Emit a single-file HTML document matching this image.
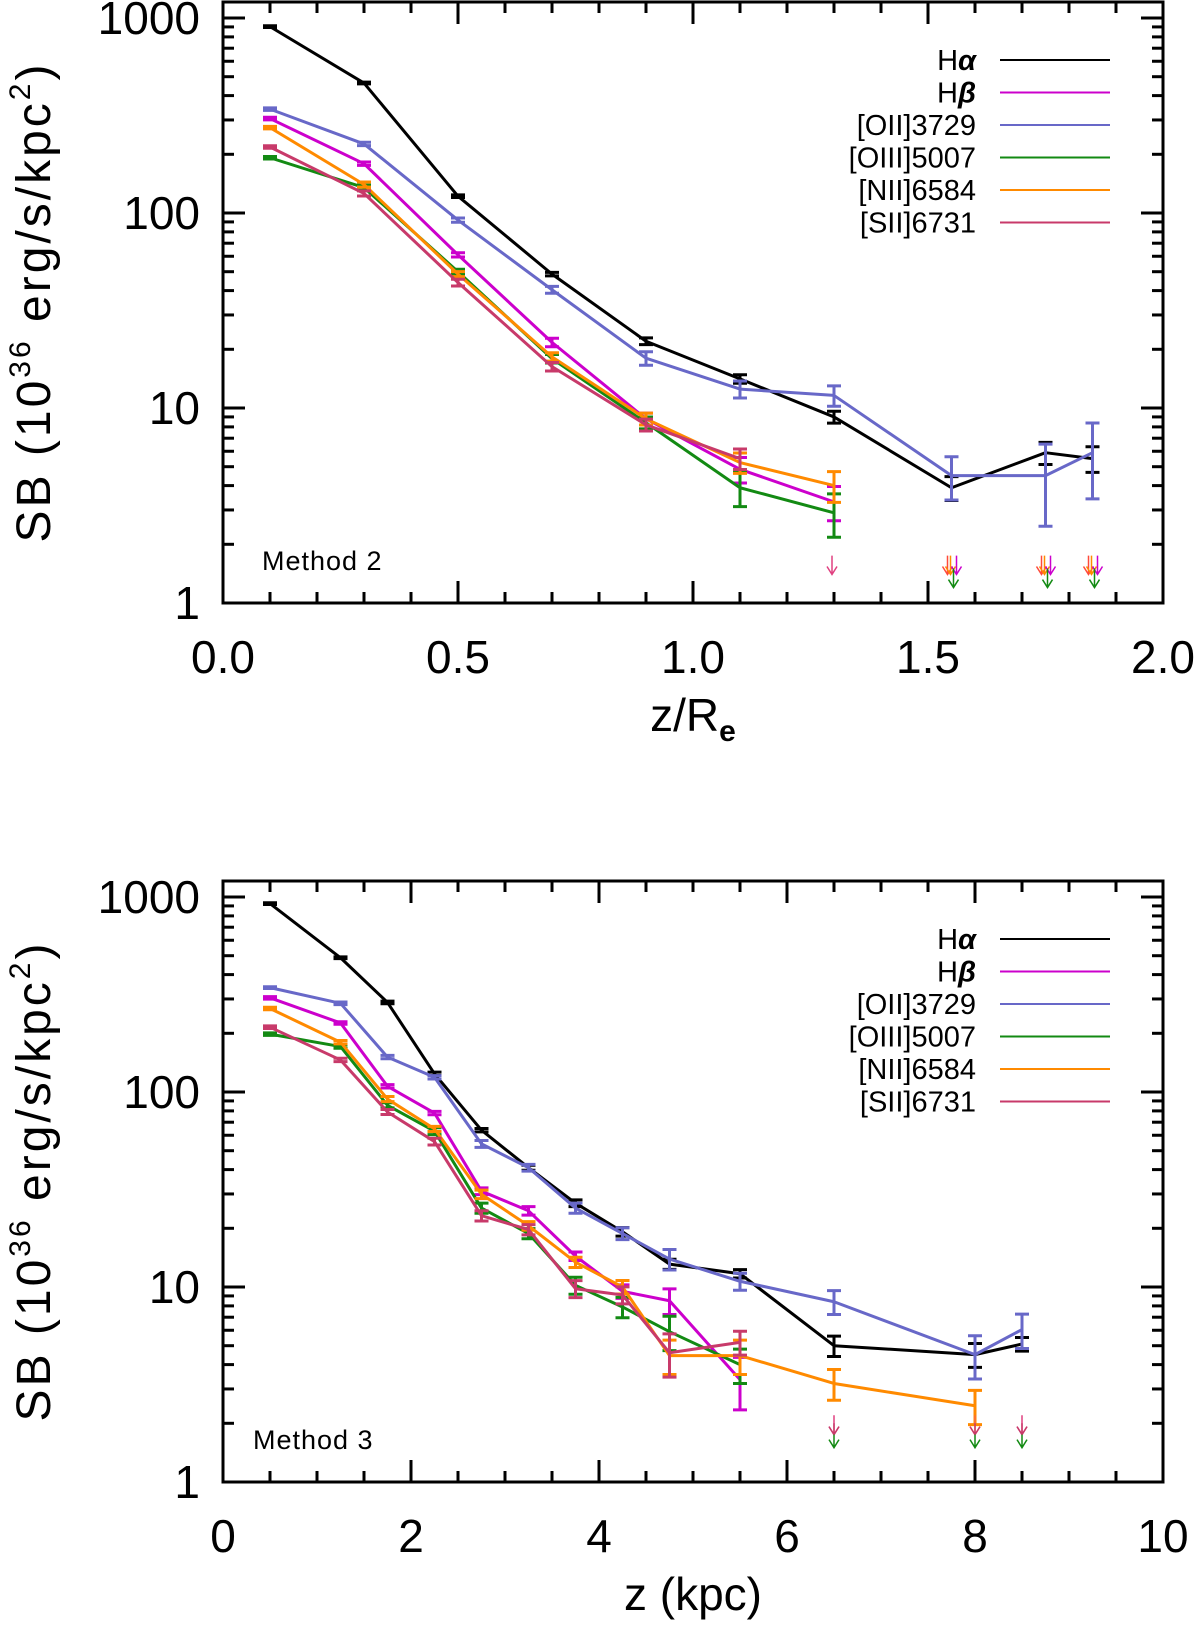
<!DOCTYPE html>
<html><head><meta charset="utf-8">
<style>
html,body{margin:0;padding:0;background:#fff;}
svg{display:block;font-family:"Liberation Sans","DejaVu Sans",sans-serif;}
</style></head>
<body>
<svg id="chart" width="1200" height="1626" viewBox="0 0 1200 1626" xmlns="http://www.w3.org/2000/svg"></svg>
<script>
// ---------- Panel 1 (Method 2) data ----------
const p1X = [0.1, 0.3, 0.5, 0.7, 0.9, 1.1, 1.3, 1.55, 1.75, 1.85];
const p1Ha   = [903, 464, 122, 48.6, 22.0, 14.1, 9.0, 3.9, 5.9, 5.5];
const p1Hb   = [305, 179, 61, 21.7, 8.8, 4.85, 3.3, null, null, null];
const p1OII  = [341, 226, 92, 40.4, 18.0, 12.5, 11.6, 4.5, 4.5, 5.9];
const p1OIII = [192, 135, 50, 17.9, 8.4, 3.9, 2.9, null, null, null];
const p1NII  = [274, 140, 48.6, 18.3, 8.8, 5.25, 4.0, null, null, null];
const p1SII  = [218, 126, 44, 16.3, 8.2, 5.5, null, null, null, null];
const p1HaErr   = [0.01, 0.01, 0.015, 0.02, 0.04, 0.05, 0.07, 0.14, 0.13, 0.15];
const p1HbErr   = [0.015, 0.02, 0.025, 0.05, 0.07, 0.15, 0.2, 0, 0, 0];
const p1OIIErr  = [0.015, 0.02, 0.025, 0.04, 0.08, 0.1, 0.12, 0.25, 0.45, 0.42];
const p1OIIIErr = [0.015, 0.03, 0.03, 0.05, 0.07, 0.2, 0.25, 0, 0, 0];
const p1NIIErr  = [0.015, 0.03, 0.03, 0.05, 0.07, 0.12, 0.18, 0, 0, 0];
const p1SIIErr  = [0.015, 0.03, 0.04, 0.05, 0.07, 0.12, 0, 0, 0, 0];
const p1LimX = [1.3, 1.55, 1.75, 1.85];
const p1XTicks = ["0.0", "0.5", "1.0", "1.5", "2.0"];
const p1XTickVals = [0, 0.5, 1.0, 1.5, 2.0];

// ---------- Panel 2 (Method 3) data ----------
const p2X = [0.5, 1.25, 1.75, 2.25, 2.75, 3.25, 3.75, 4.25, 4.75, 5.5, 6.5, 8.0, 8.5];
const p2Ha   = [925, 488, 288, 124, 63.7, 40.9, 26.9, 19.2, 13.1, 11.7, 5.0, 4.5, 5.1];
const p2Hb   = [304, 226, 107, 78, 31, 24.6, 14.4, 9.5, 8.5, 3.35, null, null, null];
const p2OII  = [343, 285, 151, 119, 54.2, 40.9, 25.4, 18.8, 13.9, 10.7, 8.4, 4.5, 6.05];
const p2OIII = [198, 171, 85.5, 63, 25.4, 18.8, 10.2, 7.9, 5.9, 4.0, null, null, null];
const p2NII  = [268, 180, 92, 64.7, 29.9, 20.6, 13.4, 10.0, 4.45, 4.45, 3.2, 2.46, null];
const p2SII  = [215, 146, 79, 55.7, 23.2, 19.7, 9.8, 9.1, 4.6, 5.2, null, null, null];
const p2HaErr   = [0.01, 0.01, 0.015, 0.02, 0.02, 0.03, 0.04, 0.05, 0.06, 0.05, 0.12, 0.14, 0.08];
const p2HbErr   = [0.015, 0.015, 0.02, 0.02, 0.04, 0.05, 0.05, 0.08, 0.15, 0.3, 0, 0, 0];
const p2OIIErr  = [0.01, 0.015, 0.02, 0.02, 0.04, 0.04, 0.06, 0.07, 0.12, 0.1, 0.14, 0.25, 0.2];
const p2OIIIErr = [0.015, 0.02, 0.03, 0.04, 0.06, 0.06, 0.1, 0.12, 0.2, 0.2, 0, 0, 0];
const p2NIIErr  = [0.015, 0.02, 0.03, 0.03, 0.05, 0.05, 0.06, 0.08, 0.2, 0.2, 0.18, 0.2, 0];
const p2SIIErr  = [0.015, 0.02, 0.03, 0.04, 0.06, 0.06, 0.1, 0.1, 0.25, 0.14, 0, 0, 0];
const p2LimX = [6.5, 8.0, 8.5];
const p2XTicks = ["0", "2", "4", "6", "8", "10"];
const p2XTickVals = [0, 2, 4, 6, 8, 10];

const yTicks = ["1000", "100", "10", "1"];
const yTickVals = [1000, 100, 10, 1];
const seriesNames = ["Hα", "Hβ", "[OII]3729", "[OIII]5007", "[NII]6584", "[SII]6731"];
const seriesColors = ["#000000", "#cc00cc", "#6868c8", "#138a13", "#ff8a00", "#c83a6a"];

const NS = "http://www.w3.org/2000/svg";
const svg = document.getElementById("chart");
function mk(tag, attrs, parent) {
  const e = document.createElementNS(NS, tag);
  for (const k in attrs) e.setAttribute(k, attrs[k]);
  (parent || svg).appendChild(e);
  return e;
}

function drawPanel(cfg) {
  const L = 223, R = 1163, T = cfg.top, B = cfg.top + 601;
  const y1000 = cfg.top + 16, decade = 195;
  const xs = v => L + (v - cfg.xmin) / (cfg.xmax - cfg.xmin) * (R - L);
  const ys = v => y1000 + (3 - Math.log10(v)) * decade;

  const g = mk("g", {});
  
  

  const fr = mk("rect", {x: L, y: T, width: R - L, height: B - T, fill: "none", stroke: "#000", "stroke-width": 3}, g);
  
  

  for (let v = cfg.xmin; v <= cfg.xmax + 1e-9; v += cfg.minor) {
    const isMaj = cfg.xTickVals.some(t => Math.abs(t - v) < 1e-6);
    const len = isMaj ? 22 : 11;
    const px = xs(v);
    mk("line", {x1: px, x2: px, y1: B, y2: B - len, stroke: "#000", "stroke-width": 3}, g);
    mk("line", {x1: px, x2: px, y1: T, y2: T + len, stroke: "#000", "stroke-width": 3}, g);
  }
  cfg.xTicks.forEach((lab, i) => {
    const t = mk("text", {x: xs(cfg.xTickVals[i]), y: B + 70, "font-size": 46, "text-anchor": "middle"}, g);
    t.textContent = lab;
    
    
  });
  for (let d = 0; d < 3; d++) {
    for (let m = 1; m <= 10; m++) {
      const v = Math.pow(10, d) * m;
      const py = ys(v);
      const len = (m === 1 || m === 10) ? 22 : 11;
      mk("line", {x1: L, x2: L + len, y1: py, y2: py, stroke: "#000", "stroke-width": 3}, g);
      mk("line", {x1: R, x2: R - len, y1: py, y2: py, stroke: "#000", "stroke-width": 3}, g);
    }
  }
  yTicks.forEach((lab, i) => {
    const t = mk("text", {x: 200, y: ys(yTickVals[i]) + 16, "font-size": 46, "text-anchor": "end"}, g);
    t.textContent = lab;
    
    
  });

  const yt = mk("text", {x: 0, y: 0, "font-size": 48, "letter-spacing": "3", "text-anchor": "middle", transform: `translate(50,${T + 300}) rotate(-90)`}, g);
  
  
  yt.innerHTML = 'SB (10<tspan font-size="30" dy="-20">36</tspan><tspan dy="20"> erg/s/kpc</tspan><tspan font-size="30" dy="-20">2</tspan><tspan dy="20">)</tspan>';

  const xt = mk("text", {x: (L + R) / 2, y: B + 128, "font-size": 46, "text-anchor": "middle"}, g);
  
  
  xt.innerHTML = cfg.xTitle;

  const ml = mk("text", {x: cfg.methodX, y: B - 33, "font-size": 27, "letter-spacing": "1"}, g);
  ml.textContent = cfg.method;
  
  

  cfg.series.forEach((vals, si) => {
    const col = seriesColors[si];
    const errs = cfg.errs[si];
    const sg = mk("g", {}, g);
    
    
    let pts = [];
    vals.forEach((v, i) => { if (v != null) pts.push(xs(cfg.x[i]) + "," + ys(v)); });
    const pl = mk("polyline", {points: pts.join(" "), fill: "none", stroke: col, "stroke-width": 3, "stroke-linejoin": "round"}, sg);
    
    
    vals.forEach((v, i) => {
      if (v == null) return;
      const px = xs(cfg.x[i]);
      const e = errs[i];
      const yl = ys(v * (1 - e)), yh = ys(v * (1 + e));
      const eb = mk("path", {d: `M${px},${yh}V${yl}M${px - 7},${yh}H${px + 7}M${px - 7},${yl}H${px + 7}`, stroke: col, "stroke-width": 3, fill: "none"}, sg);
      
      
    });
  });

  cfg.limX.forEach((lx, li) => {
    const px = xs(lx);
    const ag = mk("g", {}, g);
    
    
    const set = cfg.limSets[li];
    set.forEach(a => {
      const x0 = px + a.dx, y0 = ys(a.top), y1 = ys(a.bot);
      mk("path", {d: `M${x0},${y0}V${y1}M${x0 - 5},${y1 - 8}L${x0},${y1}L${x0 + 5},${y1 - 8}`, stroke: a.c, "stroke-width": 1.5, fill: "none"}, ag);
    });
  });

  seriesNames.forEach((nm, i) => {
    const ly = T + 58 + i * 32.5;
    const lg = mk("g", {}, g);
    
    
    const t = mk("text", {x: 976, y: ly + 10, "font-size": 29, "text-anchor": "end"}, lg);
    if (i === 0) t.innerHTML = 'H<tspan font-weight="bold" font-style="italic">α</tspan>';
    else if (i === 1) t.innerHTML = 'H<tspan font-weight="bold" font-style="italic">β</tspan>';
    else t.textContent = nm;
    mk("line", {x1: 1000, x2: 1110, y1: ly, y2: ly, stroke: seriesColors[i], "stroke-width": 2}, lg);
  });
}

const p1Lim = [
  [{dx: -2, top: 1.75, bot: 1.4, c: "#e04080"}],
  [{dx: -4, top: 1.75, bot: 1.4, c: "#ff4a3a"}, {dx: -1, top: 1.75, bot: 1.4, c: "#ff8a00"}, {dx: 5, top: 1.75, bot: 1.4, c: "#cc00cc"}, {dx: 2, top: 1.5, bot: 1.2, c: "#138a13"}],
  [{dx: -4, top: 1.75, bot: 1.4, c: "#ff4a3a"}, {dx: -1, top: 1.75, bot: 1.4, c: "#ff8a00"}, {dx: 5, top: 1.75, bot: 1.4, c: "#cc00cc"}, {dx: 2, top: 1.5, bot: 1.2, c: "#138a13"}],
  [{dx: -4, top: 1.75, bot: 1.4, c: "#ff4a3a"}, {dx: -1, top: 1.75, bot: 1.4, c: "#ff8a00"}, {dx: 5, top: 1.75, bot: 1.4, c: "#cc00cc"}, {dx: 2, top: 1.5, bot: 1.2, c: "#138a13"}]
];
const p2Lim = [
  [{dx: 0, top: 2.2, bot: 1.75, c: "#e04080"}, {dx: 0, top: 2.0, bot: 1.75, c: "#c83a6a"}, {dx: 0, top: 1.75, bot: 1.5, c: "#138a13"}],
  [{dx: 0, top: 2.2, bot: 1.75, c: "#ff6a3a"}, {dx: 0, top: 2.0, bot: 1.75, c: "#c83a6a"}, {dx: 0, top: 1.75, bot: 1.5, c: "#138a13"}],
  [{dx: 0, top: 2.2, bot: 1.75, c: "#e04080"}, {dx: 0, top: 2.0, bot: 1.75, c: "#c83a6a"}, {dx: 0, top: 1.75, bot: 1.5, c: "#138a13"}]
];

drawPanel({
  name: "panel-method-2", top: 2, xmin: 0, xmax: 2, minor: 0.1,
  xTicks: p1XTicks, xTickVals: p1XTickVals, x: p1X,
  series: [p1Ha, p1Hb, p1OII, p1OIII, p1NII, p1SII],
  errs: [p1HaErr, p1HbErr, p1OIIErr, p1OIIIErr, p1NIIErr, p1SIIErr],
  limX: p1LimX, limSets: p1Lim,
  xTitle: 'z/R<tspan font-size="30" dy="10" font-weight="bold">e</tspan>',
  method: "Method 2", methodX: 262
});
drawPanel({
  name: "panel-method-3", top: 881, xmin: 0, xmax: 10, minor: 0.5,
  xTicks: p2XTicks, xTickVals: p2XTickVals, x: p2X,
  series: [p2Ha, p2Hb, p2OII, p2OIII, p2NII, p2SII],
  errs: [p2HaErr, p2HbErr, p2OIIErr, p2OIIIErr, p2NIIErr, p2SIIErr],
  limX: p2LimX, limSets: p2Lim,
  xTitle: 'z (kpc)',
  method: "Method 3", methodX: 253
});
</script>
</body></html>
